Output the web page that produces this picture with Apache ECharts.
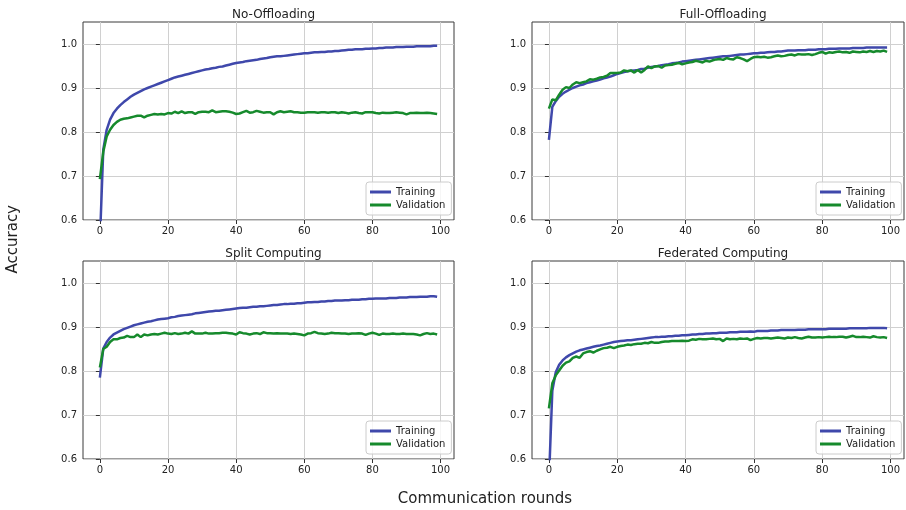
<!DOCTYPE html>
<html>
<head>
<meta charset="utf-8">
<script src="https://cdn.jsdelivr.net/npm/echarts@6/dist/echarts.min.js"></script>
<style>html,body{margin:0;padding:0;background:#fff;}#c{width:906px;height:510px;}</style>
</head>
<body>
<div id="c"></div>
<script>
const panelTitles = ['No-Offloading', 'Full-Offloading', 'Split Computing', 'Federated Computing'];
const seriesNames = ['Training', 'Validation'];
const xTicks = [0, 20, 40, 60, 80, 100];
const yTicks = [0.6, 0.7, 0.8, 0.9, 1.0];

const noOffTrain = [0.55,0.76,0.805,0.828,0.843,0.853,0.861,0.868,0.874,0.880,0.885,0.889,0.893,0.897,0.900,0.903,0.906,0.909,0.912,0.915,0.918,0.921,0.924,0.926,0.928,0.930,0.932,0.934,0.936,0.938,0.940,0.942,0.943,0.945,0.946,0.948,0.949,0.951,0.953,0.955,0.957,0.958,0.959,0.961,0.962,0.963,0.964,0.966,0.967,0.968,0.970,0.971,0.972,0.972,0.973,0.974,0.975,0.976,0.977,0.978,0.979,0.979,0.980,0.981,0.981,0.982,0.982,0.983,0.983,0.984,0.984,0.985,0.986,0.987,0.987,0.988,0.988,0.988,0.989,0.989,0.990,0.990,0.991,0.991,0.992,0.992,0.992,0.993,0.993,0.993,0.994,0.994,0.994,0.995,0.995,0.995,0.995,0.995,0.996,0.996];
const noOffVal = [0.693,0.755,0.790,0.805,0.816,0.823,0.828,0.830,0.831,0.833,0.835,0.837,0.837,0.833,0.837,0.839,0.841,0.840,0.841,0.840,0.843,0.842,0.846,0.843,0.847,0.843,0.845,0.845,0.841,0.845,0.846,0.846,0.845,0.849,0.845,0.846,0.847,0.847,0.846,0.844,0.841,0.842,0.845,0.848,0.844,0.845,0.848,0.846,0.844,0.845,0.845,0.840,0.845,0.847,0.845,0.846,0.847,0.845,0.845,0.844,0.844,0.845,0.845,0.845,0.844,0.845,0.845,0.844,0.845,0.845,0.843,0.845,0.844,0.842,0.844,0.845,0.843,0.842,0.845,0.845,0.845,0.843,0.842,0.844,0.843,0.843,0.844,0.845,0.844,0.843,0.840,0.843,0.843,0.844,0.843,0.843,0.844,0.843,0.842,0.841];

const fullOffTrain = [0.782,0.857,0.870,0.880,0.887,0.892,0.896,0.900,0.903,0.906,0.908,0.911,0.913,0.915,0.917,0.919,0.922,0.924,0.926,0.929,0.932,0.934,0.936,0.938,0.939,0.940,0.941,0.943,0.944,0.946,0.948,0.949,0.950,0.952,0.953,0.954,0.956,0.957,0.958,0.960,0.961,0.962,0.963,0.964,0.965,0.966,0.967,0.968,0.969,0.970,0.971,0.972,0.972,0.973,0.974,0.975,0.976,0.976,0.977,0.978,0.979,0.979,0.980,0.980,0.981,0.982,0.982,0.983,0.983,0.984,0.985,0.985,0.985,0.986,0.986,0.986,0.987,0.987,0.987,0.988,0.988,0.988,0.989,0.989,0.989,0.990,0.990,0.990,0.990,0.991,0.991,0.991,0.991,0.992,0.992,0.992,0.992,0.992,0.992,0.992];
const fullOffVal = [0.853,0.874,0.872,0.885,0.896,0.902,0.900,0.908,0.913,0.911,0.913,0.915,0.920,0.919,0.921,0.924,0.925,0.928,0.934,0.934,0.934,0.935,0.940,0.938,0.940,0.935,0.941,0.935,0.941,0.949,0.945,0.949,0.950,0.946,0.951,0.952,0.953,0.955,0.957,0.954,0.956,0.958,0.959,0.962,0.960,0.958,0.962,0.960,0.963,0.965,0.966,0.964,0.968,0.966,0.965,0.970,0.968,0.965,0.961,0.966,0.970,0.971,0.970,0.971,0.969,0.970,0.972,0.974,0.972,0.973,0.975,0.976,0.974,0.977,0.976,0.976,0.977,0.975,0.977,0.980,0.982,0.978,0.981,0.980,0.982,0.983,0.981,0.982,0.980,0.983,0.982,0.981,0.983,0.982,0.984,0.982,0.984,0.983,0.985,0.982];

const splitTrain = [0.785,0.851,0.866,0.876,0.883,0.887,0.891,0.895,0.898,0.901,0.904,0.906,0.908,0.910,0.912,0.913,0.915,0.917,0.918,0.919,0.920,0.922,0.923,0.925,0.926,0.927,0.928,0.929,0.931,0.932,0.933,0.934,0.935,0.936,0.937,0.937,0.938,0.939,0.940,0.941,0.942,0.943,0.944,0.944,0.945,0.946,0.946,0.947,0.947,0.948,0.949,0.950,0.950,0.951,0.952,0.952,0.953,0.953,0.954,0.954,0.955,0.956,0.956,0.957,0.957,0.958,0.958,0.959,0.959,0.960,0.960,0.960,0.961,0.961,0.962,0.962,0.962,0.963,0.963,0.964,0.964,0.965,0.965,0.965,0.965,0.966,0.966,0.966,0.967,0.967,0.967,0.968,0.968,0.968,0.969,0.969,0.969,0.970,0.970,0.969];
const splitVal = [0.808,0.850,0.855,0.866,0.872,0.872,0.875,0.876,0.880,0.877,0.877,0.883,0.877,0.883,0.881,0.883,0.884,0.883,0.885,0.887,0.885,0.884,0.886,0.884,0.885,0.887,0.885,0.890,0.885,0.885,0.885,0.887,0.885,0.885,0.886,0.886,0.887,0.887,0.886,0.885,0.883,0.888,0.886,0.885,0.883,0.885,0.886,0.884,0.888,0.886,0.886,0.885,0.886,0.885,0.885,0.885,0.884,0.885,0.884,0.883,0.881,0.885,0.886,0.889,0.886,0.885,0.884,0.885,0.887,0.886,0.886,0.885,0.885,0.884,0.885,0.885,0.886,0.885,0.882,0.885,0.887,0.885,0.882,0.885,0.884,0.884,0.885,0.884,0.884,0.885,0.884,0.884,0.884,0.883,0.881,0.884,0.886,0.884,0.885,0.883];

const fedTrain = [0.55,0.755,0.797,0.814,0.824,0.831,0.836,0.840,0.844,0.847,0.849,0.851,0.853,0.855,0.857,0.858,0.860,0.862,0.864,0.866,0.867,0.868,0.869,0.870,0.870,0.871,0.872,0.873,0.874,0.875,0.876,0.877,0.877,0.878,0.878,0.879,0.879,0.880,0.880,0.881,0.881,0.882,0.883,0.883,0.884,0.884,0.885,0.885,0.886,0.886,0.887,0.887,0.887,0.888,0.888,0.888,0.889,0.889,0.889,0.890,0.889,0.891,0.891,0.891,0.891,0.892,0.892,0.892,0.893,0.893,0.893,0.893,0.893,0.894,0.894,0.894,0.895,0.895,0.895,0.895,0.895,0.895,0.896,0.896,0.896,0.896,0.896,0.896,0.897,0.897,0.897,0.897,0.897,0.897,0.898,0.898,0.898,0.898,0.898,0.897];
const fedVal = [0.715,0.772,0.790,0.801,0.812,0.819,0.822,0.830,0.833,0.830,0.840,0.843,0.845,0.842,0.846,0.849,0.852,0.853,0.855,0.852,0.855,0.857,0.858,0.860,0.859,0.861,0.862,0.862,0.864,0.863,0.866,0.864,0.864,0.866,0.867,0.867,0.868,0.868,0.868,0.869,0.868,0.869,0.872,0.871,0.873,0.872,0.872,0.873,0.874,0.872,0.873,0.868,0.874,0.872,0.873,0.872,0.874,0.873,0.874,0.870,0.873,0.875,0.874,0.875,0.875,0.874,0.875,0.876,0.875,0.874,0.876,0.875,0.877,0.875,0.874,0.876,0.878,0.876,0.876,0.877,0.876,0.877,0.878,0.877,0.877,0.878,0.878,0.876,0.878,0.880,0.877,0.877,0.878,0.877,0.876,0.879,0.877,0.876,0.877,0.875];

const panelData = [
  [noOffTrain, noOffVal],
  [fullOffTrain, fullOffVal],
  [splitTrain, splitVal],
  [fedTrain, fedVal]
];

const colors = ['#3f48ab', '#168a2c'];
const FONT = 'DejaVu Sans';
const gridPos = [
  {left: 83, top: 22, width: 371, height: 198},
  {left: 532, top: 22, width: 372, height: 198},
  {left: 83, top: 261, width: 371, height: 198},
  {left: 532, top: 261, width: 372, height: 198}
];

const grids = [], xAxes = [], yAxes = [], series = [], titles = [], legends = [];
gridPos.forEach((g, k) => {
  grids.push(Object.assign({show: true, borderColor: '#3a3a3a', borderWidth: 1, backgroundColor: 'transparent', containLabel: false}, g));
  xAxes.push({
    type: 'value', gridIndex: k, min: -4.95, max: 103.95,
    axisLine: {show: false},
    axisTick: {show: true, length: 4, lineStyle: {color: '#333'}, customValues: xTicks},
    axisLabel: {fontFamily: FONT, fontSize: 10, color: '#222', margin: 6, customValues: xTicks},
    splitLine: {show: true, lineStyle: {color: '#d0d0d0', width: 1}}
  });
  yAxes.push({
    type: 'value', gridIndex: k, min: 0.6, max: 1.05, interval: 0.1,
    axisLine: {show: false},
    axisTick: {show: true, length: 4, lineStyle: {color: '#333'}, customValues: yTicks},
    axisLabel: {fontFamily: FONT, fontSize: 10, color: '#222', margin: 6, customValues: yTicks, formatter: v => v.toFixed(1)},
    splitLine: {show: true, lineStyle: {color: '#d0d0d0', width: 1}}
  });
  panelData[k].forEach((vals, s) => {
    series.push({
      name: seriesNames[s], type: 'line', xAxisIndex: k, yAxisIndex: k,
      data: vals.map((v, i) => [i, v]),
      showSymbol: false, symbol: 'none', clip: true, z: 3 + s,
      lineStyle: {color: colors[s], width: 2.5},
      itemStyle: {color: colors[s]},
      animation: false
    });
  });
  titles.push({
    text: panelTitles[k], left: g.left + g.width / 2, top: g.top - 18, textAlign: 'center',
    textStyle: {fontFamily: FONT, fontSize: 12, fontWeight: 'normal', color: '#222'}
  });
  legends.push({
    data: seriesNames, orient: 'vertical',
    left: g.left + g.width - 88, top: g.top + g.height - 38,
    itemWidth: 21, itemHeight: 3, icon: 'rect', itemGap: 3,
    padding: [5, 6, 5, 4],
    borderColor: '#cccccc', borderWidth: 1, borderRadius: 3,
    backgroundColor: 'rgba(255,255,255,0.8)',
    textStyle: {fontFamily: FONT, fontSize: 10, color: '#222'},
    selectedMode: false
  });
});

titles.push({
  text: 'Communication rounds', left: 480, top: 487, textAlign: 'center',
  textStyle: {fontFamily: FONT, fontSize: 15, fontWeight: 'normal', color: '#222'}
});

const chart = echarts.init(document.getElementById('c'), null, {renderer: 'canvas'});
chart.setOption({
  animation: false,
  backgroundColor: '#fff',
  title: titles,
  legend: legends,
  grid: grids,
  xAxis: xAxes,
  yAxis: yAxes,
  series: series,
  graphic: [{
    type: 'text', left: 6, top: 205, rotation: Math.PI / 2,
    style: {text: 'Accuracy', fontFamily: FONT, fontSize: 15, fill: '#222'}
  }]
});
</script>
</body>
</html>
